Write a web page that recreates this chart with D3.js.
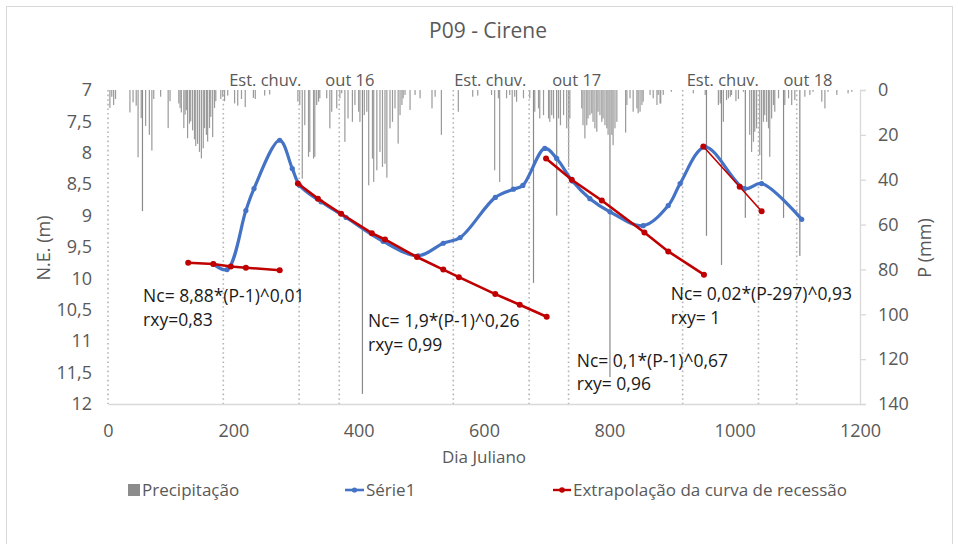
<!DOCTYPE html>
<html><head><meta charset="utf-8">
<script src="https://cdn.jsdelivr.net/npm/d3@7"></script>
<style>body{margin:0;background:#fff}svg{display:block;font-family:"Open Sans",sans-serif}</style>
</head><body><svg id="c" width="958" height="544"></svg>
<script>
// ---------- DATA ----------
const chartTitle = "P09 - Cirene";
const xTicks = [0, 200, 400, 600, 800, 1000, 1200];
const yLeftTicks = [7, 7.5, 8, 8.5, 9, 9.5, 10, 10.5, 11, 11.5, 12];
const yRightTicks = [0, 20, 40, 60, 80, 100, 120, 140];

const precipDays = [3,6,9,12,35,40,45,48,53,55,60,66,70,73,84,96,99,113,115,117,121,123,125,127,130,132,135,138,140,143,146,149,152,154,157,159,162,164,167,170,172,180,183,186,191,202,207,213,219,232,235,250,258,
  303,306,310,314,320,322,328,330,333,336,338,349,354,357,365,370,373,378,383,390,394,400,402,406,409,413,416,422,424,429,434,438,442,445,450,454,458,463,466,469,471,474,482,490,498,517,522,532,559,582,590,
  612,617,623,625,636,641,645,649,652,663,673,679,681,687,689,695,703,705,708,711,716,719,722,727,732,735,737,756,758,761,764,766,769,772,774,777,780,782,785,788,790,793,796,798,801,804,806,809,812,826,828,833,838,844,846,849,852,854,865,870,876,878,881,882,886,899,
  934,953,955,974,977,979,982,987,990,993,995,1002,1006,1014,1017,1024,1027,1030,1032,1035,1040,1043,1046,1048,1051,1054,1056,1059,1062,1064,1070,1078,1080,1086,1091,1096,1104,1112,1120,1125,1139,1144,1149,1163,1181,1187];
const precipMm = [8,3,6.7,4,10,5.5,7,30,12.5,54,16,20,27,4,3,17,5,6,8,10,17,11,9,21.5,15,14,18,22,25,24,27.6,30.5,26,17,20,23,17,12,21,8,5,4,3,5,2.5,6,7,4,7.6,3.5,4,2.5,2,
  5.2,6.7,39.5,15.7,29.8,27.6,30.6,29.8,6.7,5.2,3.7,3.7,17.1,9.7,8.2,3.7,1.5,23.1,12.7,14.2,6.7,9.7,14.2,135.5,11.2,9.7,42.5,30.6,41,35.8,27.6,34.3,32.9,39.1,17.1,14.2,8.2,23.9,11.2,6.7,3.7,2.2,8.9,2.2,3.7,8.2,3,20,9.7,3,2.5,
  2.2,35.8,3.7,41,3.7,2.2,44,3,5.2,3.7,3.7,86,9.7,8.2,12.7,11.2,12.7,14.2,11.2,12.7,56,12.7,15.7,11.2,17.1,34.3,12.7,8.2,15.7,21.6,15.7,12.7,11.2,10.4,14.2,17.1,18.6,9.7,11.2,14.2,12.7,15.7,17.1,20,128,20,24.6,17.1,14.2,19,6.7,3.7,9.7,8.2,10.4,9.7,6.7,5.2,2.2,3.7,6.7,2.2,6,6,2.2,0.8,
  1.5,2.2,65,6.7,6,78,14.2,4.5,3.7,3,2.2,5,4,0.8,57,20,27.6,23.1,18.6,17.1,29,40,14.2,11.2,14.2,17.1,29.8,12.7,6.7,9.7,3.7,57,6.7,3.7,6.7,4.5,74,3,2.2,0.8,5.2,8.2,0.8,2.2,1.5,0.8];

const serieDays = [168,190,220,233,274,294,306,340,380,439,495,535,562,618,647,662,697,716,741,769,801,854,894,913,953,1016,1043,1107];
const serieNE   = [9.77,9.86,8.92,8.57,7.8,8.25,8.52,8.78,9.03,9.41,9.64,9.44,9.35,8.71,8.58,8.52,7.93,8.09,8.45,8.73,8.94,9.16,8.84,8.49,7.91,8.57,8.49,9.06];

const rec1Days = [128,168,196,220,274];
const rec1NE   = [9.75,9.77,9.81,9.83,9.87];
const rec2Days = [303,335,372,421,442,493,535,560,618,657,700];
const rec2NE   = [8.49,8.73,8.97,9.28,9.38,9.66,9.86,9.98,10.25,10.42,10.61];
const rec3Days = [699,740,788,856,894,951];
const rec3NE   = [8.09,8.43,8.76,9.27,9.57,9.94];
const rec4Days = [950,1008,1043];
const rec4NE   = [7.9,8.54,8.93];

const periodLineDays = [0,184,305,369,551,672,735,917,1038,1099];
const periodLabels = ["Est. chuv.","out 16","Est. chuv.","out 17","Est. chuv.","out 18"];
const periodLabelDays = [251,386,610,748,981,1117];

const eqLine1 = ["Nc= 8,88*(P-1)^0,01","Nc= 1,9*(P-1)^0,26","Nc= 0,1*(P-1)^0,67","Nc= 0,02*(P-297)^0,93"];
const eqLine2 = ["rxy=0,83","rxy= 0,99","rxy= 0,96","rxy= 1"];
const legendLabels = ["Precipitação","Série1","Extrapolação da curva de recessão"];

// ---------- DRAW ----------
const svg = d3.select("#c");
const x = d3.scaleLinear().domain([0,1200]).range([108,860]);
const yL = d3.scaleLinear().domain([7,12]).range([90,404]);
const yR = d3.scaleLinear().domain([0,140]).range([90,404]);
const loc = d3.formatLocale({decimal:",",thousands:".",grouping:[3],currency:["",""]});
const fmtL = loc.format(".1~f");
const textCol = "#595959";

// chart frame
svg.append("rect").attr("x",6.5).attr("y",6.5).attr("width",946).attr("height",560)
  .attr("fill","#fff").attr("stroke","#d9d9d9").attr("stroke-width",1);

// title
svg.append("text").attr("x",488).attr("y",38).attr("text-anchor","middle")
  .attr("font-size",21).attr("fill",textCol).text(chartTitle);

// precipitation bars
const precip = precipDays.map((d,i)=>({d, v: precipMm[i]}));
svg.append("g").selectAll("rect").data(precip).join("rect")
  .attr("x", p => x(p.d) - 0.6).attr("width", 1.2)
  .attr("y", yR(0)).attr("height", p => yR(p.v) - yR(0))
  .attr("fill", p => p.v > 50 ? "#8a8a8a" : "#9a9a9a");

// dotted period lines
svg.append("g").selectAll("line").data(periodLineDays).join("line")
  .attr("x1", d=>x(d)).attr("x2", d=>x(d)).attr("y1", yL(7)).attr("y2", yL(12))
  .attr("stroke","#b4b4b4").attr("stroke-width",1.6).attr("stroke-dasharray","1.6,3");

// period labels
svg.append("g").selectAll("text").data(periodLabels).join("text")
  .attr("x",(d,i)=>x(periodLabelDays[i])).attr("y",86).attr("text-anchor","middle")
  .attr("font-size",16.5).attr("fill",textCol).text(d=>d);

// bottom axis
const gx = svg.append("g").attr("transform",`translate(0,${yL(12)})`)
  .call(d3.axisBottom(x).tickValues(xTicks).tickFormat(d3.format("d")).tickSize(0).tickPadding(20));
gx.select(".domain").attr("stroke","#d9d9d9").attr("stroke-width",1.3);
gx.selectAll("text").attr("font-size",18).attr("fill",textCol).attr("font-family","Open Sans");

// left axis
const gl = svg.append("g").attr("transform",`translate(${x(0)},0)`)
  .call(d3.axisLeft(yL).tickValues(yLeftTicks).tickFormat(fmtL).tickSize(0).tickPadding(16));
gl.select(".domain").remove();
gl.selectAll("text").attr("font-size",18).attr("fill",textCol).attr("font-family","Open Sans");

// right axis
const gr = svg.append("g").attr("transform",`translate(${x(1200)},0)`)
  .call(d3.axisRight(yR).tickValues(yRightTicks).tickSize(6).tickPadding(12));
gr.select(".domain").attr("stroke","#d9d9d9").attr("stroke-width",1.3);
gr.selectAll(".tick line").attr("stroke","#d9d9d9").attr("stroke-width",1.3);
gr.selectAll("text").attr("font-size",18).attr("fill",textCol).attr("font-family","Open Sans");

// axis titles
svg.append("text").attr("transform","translate(50,248) rotate(-90)").attr("text-anchor","middle")
  .attr("font-size",18).attr("fill",textCol).text("N.E. (m)");
svg.append("text").attr("transform","translate(931,248) rotate(-90)").attr("text-anchor","middle")
  .attr("font-size",18).attr("fill",textCol).text("P (mm)");
svg.append("text").attr("x",484).attr("y",463).attr("text-anchor","middle")
  .attr("font-size",17).attr("fill",textCol).text("Dia Juliano");

// series
const blue = "#4472c4", red = "#c00000";
const serie = serieDays.map((d,i)=>[d, serieNE[i]]);
svg.append("path").datum(serie)
  .attr("d", d3.line().x(d=>x(d[0])).y(d=>yL(d[1])).curve(d3.curveCatmullRom.alpha(0.5)))
  .attr("fill","none").attr("stroke",blue).attr("stroke-width",3.2).attr("stroke-linejoin","round");
svg.append("g").selectAll("circle").data(serie).join("circle")
  .attr("cx",d=>x(d[0])).attr("cy",d=>yL(d[1])).attr("r",2.6).attr("fill",blue);

const recs = [[rec1Days,rec1NE,2.4],[rec2Days,rec2NE,2.6],[rec3Days,rec3NE,2.6],[rec4Days,rec4NE,1.6]];
recs.forEach(([ds,vs,w])=>{
  const pts = ds.map((d,i)=>[d, vs[i]]);
  svg.append("path").datum(pts)
    .attr("d", d3.line().x(d=>x(d[0])).y(d=>yL(d[1])))
    .attr("fill","none").attr("stroke",red).attr("stroke-width",w);
  svg.append("g").selectAll("circle").data(pts).join("circle")
    .attr("cx",d=>x(d[0])).attr("cy",d=>yL(d[1])).attr("r",3).attr("fill",red);
});

// equations (two lines each, ~23.5px apart)
const eqPos = [[56,10.38],[415,10.78],[748,11.41],[898,10.35]];
eqPos.forEach(([d,n1],i)=>{
  const t = svg.append("text").attr("x",x(d)).attr("y",yL(n1)).attr("font-size",17.5).attr("fill","#1a1a1a");
  t.append("tspan").attr("x",x(d)).text(eqLine1[i]);
  t.append("tspan").attr("x",x(d)).attr("dy",23.5).text(eqLine2[i]);
});

// legend
const lg = svg.append("g");
lg.append("rect").attr("x",128).attr("y",484).attr("width",12).attr("height",12).attr("fill","#8c8c8c");
lg.append("text").attr("x",142).attr("y",496).attr("font-size",17).attr("fill",textCol).text(legendLabels[0]);
lg.append("line").attr("x1",345).attr("x2",364).attr("y1",490).attr("y2",490).attr("stroke",blue).attr("stroke-width",2.6);
lg.append("circle").attr("cx",354.5).attr("cy",490).attr("r",2.6).attr("fill",blue);
lg.append("text").attr("x",366).attr("y",496).attr("font-size",17).attr("fill",textCol).text(legendLabels[1]);
lg.append("line").attr("x1",553).attr("x2",571).attr("y1",490).attr("y2",490).attr("stroke",red).attr("stroke-width",2.4);
lg.append("circle").attr("cx",562).attr("cy",490).attr("r",2.8).attr("fill",red);
lg.append("text").attr("x",573).attr("y",496).attr("font-size",17).attr("fill",textCol).text(legendLabels[2]);
</script></body></html>
